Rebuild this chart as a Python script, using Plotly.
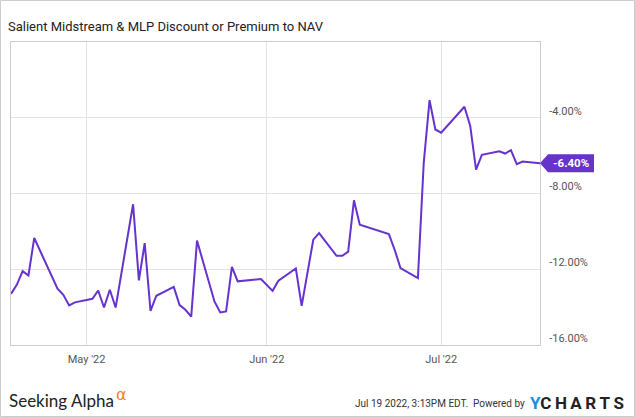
import plotly.graph_objects as go

# ---- data ----
dates = [
    "2022-04-18", "2022-04-19", "2022-04-20", "2022-04-21", "2022-04-22",
    "2022-04-26", "2022-04-27", "2022-04-28", "2022-04-29",
    "2022-05-02", "2022-05-03", "2022-05-04", "2022-05-05", "2022-05-06",
    "2022-05-09", "2022-05-10", "2022-05-11", "2022-05-12", "2022-05-13",
    "2022-05-16", "2022-05-17", "2022-05-18", "2022-05-19", "2022-05-20",
    "2022-05-23", "2022-05-24", "2022-05-25", "2022-05-26", "2022-05-27",
    "2022-05-31", "2022-06-02", "2022-06-03",
    "2022-06-06", "2022-06-07", "2022-06-09", "2022-06-10",
    "2022-06-13", "2022-06-14", "2022-06-15", "2022-06-16", "2022-06-17",
    "2022-06-22", "2022-06-23", "2022-06-24",
    "2022-06-27", "2022-06-28", "2022-06-29", "2022-06-30", "2022-07-01",
    "2022-07-05", "2022-07-06", "2022-07-07", "2022-07-08",
    "2022-07-11", "2022-07-12", "2022-07-13", "2022-07-14", "2022-07-15",
    "2022-07-18",
]
premium = [
    -13.30, -12.82, -12.10, -12.33, -10.35,
    -13.03, -13.35, -13.91, -13.75,
    -13.56, -13.12, -14.02, -13.08, -14.02,
    -8.57, -12.59, -10.62, -14.20, -13.40,
    -12.93, -13.89, -14.14, -14.50, -10.49,
    -13.70, -14.28, -14.23, -11.88, -12.64,
    -12.52, -13.14, -12.61,
    -11.96, -13.93, -10.44, -10.09,
    -11.29, -11.29, -11.07, -8.36, -9.65,
    -10.14, -10.97, -11.94,
    -12.47, -6.38, -3.07, -4.62, -4.79,
    -3.42, -4.44, -6.74, -5.96,
    -5.77, -5.89, -5.71, -6.45, -6.31,
    -6.40,
]
y_ticks = [-16, -12, -8, -4]
y_tick_labels = ["-16.00%", "-12.00%", "-8.00%", "-4.00%"]
x_ticks = ["2022-05-01", "2022-06-01", "2022-07-01"]
x_tick_labels = ["May '22", "Jun '22", "Jul '22"]
title_text = "Salient Midstream & MLP Discount or Premium to NAV"
last_label = "-6.40%"

# ---- layout geometry ----
W, H = 635, 417
ML, MR, MT, MB = 11, 95, 42, 72
PW, PH = W - ML - MR, H - MT - MB
PURPLE = "#6633cc"
FONT = "Roboto"


def px_x(px):
    return (px - ML) / PW


def px_y(py):
    return (H - MB - py) / PH


fig = go.Figure()
fig.add_trace(go.Scatter(
    x=dates, y=premium, mode="lines",
    line=dict(color=PURPLE, width=2),
    hoverinfo="skip", showlegend=False,
))

fig.update_layout(
    width=W, height=H,
    margin=dict(l=ML, r=MR, t=MT, b=MB, pad=0),
    paper_bgcolor="white", plot_bgcolor="white",
    font=dict(family=FONT, color="#555555", size=11),
    title=dict(
        text=title_text, xref="container", yref="container",
        x=8 / W, xanchor="left", y=1 - 26.5 / H, yanchor="middle",
        font=dict(family=FONT, size=13, color="#222222"),
    ),
    xaxis=dict(
        type="date", range=["2022-04-18", "2022-07-18"],
        tickvals=x_ticks, ticktext=x_tick_labels,
        showgrid=True, gridcolor="#e3e3e3", gridwidth=1,
        showline=True, linecolor="#cccccc", linewidth=1, mirror=True,
        ticks="", ticklabelstandoff=4,
        tickfont=dict(family=FONT, size=11, color="#555555"),
        zeroline=False, fixedrange=True,
    ),
    yaxis=dict(
        range=[-16, 0], side="right",
        tickvals=y_ticks, ticktext=y_tick_labels,
        showgrid=True, gridcolor="#e3e3e3", gridwidth=1,
        showline=True, linecolor="#cccccc", linewidth=1, mirror=True,
        ticks="", ticklabelstandoff=6, ticklabelshift=-7,
        tickfont=dict(family=FONT, size=11, color="#555555"),
        zeroline=False, fixedrange=True,
    ),
)

# last-value label (arrow box anchored at the final data value)
fig.add_shape(
    type="path", xref="paper", yref="y",
    xsizemode="pixel", ysizemode="pixel",
    xanchor=1, yanchor=premium[-1],
    path="M0,0 L8,9 L54,9 L54,-9 L8,-9 Z",
    fillcolor=PURPLE, line=dict(width=0), layer="above",
)
fig.add_annotation(
    xref="paper", yref="y", x=1, y=premium[-1],
    xanchor="center", yanchor="middle", xshift=31,
    text="<b>" + last_label + "</b>", showarrow=False,
    font=dict(family=FONT, size=11.5, color="white"),
)

# footer
fig.add_annotation(
    xref="paper", yref="paper", x=px_x(7), y=px_y(400),
    xanchor="left", yanchor="middle", showarrow=False,
    text="Seeking Alpha", font=dict(family="Lato", size=17, color="#222222"),
)
fig.add_annotation(
    xref="paper", yref="paper", x=px_x(114), y=px_y(394),
    xanchor="left", yanchor="middle", showarrow=False,
    text="α", font=dict(family="DejaVu Sans", size=16, color="#f5821f"),
)
fig.add_annotation(
    xref="paper", yref="paper", x=px_x(527), y=px_y(403),
    xanchor="right", yanchor="middle", showarrow=False,
    text="Jul 19 2022, 3:13PM EDT.  Powered by",
    font=dict(family=FONT, size=10, color="#333333"),
)
fig.add_annotation(
    xref="paper", yref="paper", x=px_x(528), y=px_y(403),
    xanchor="left", yanchor="middle", showarrow=False,
    text="<span style='color:#1a8fe6'>Y</span>C\u2009H\u2009A\u2009R\u2009T\u2009S",
    font=dict(family=FONT, size=17, color="#222222", weight="bold"),
)

# outer frame
fig.add_shape(
    type="rect", xref="paper", yref="paper",
    x0=px_x(0.5), x1=px_x(W - 0.5), y0=px_y(H - 0.5), y1=px_y(0.5),
    line=dict(color="#cccccc", width=1), fillcolor="rgba(0,0,0,0)", layer="below",
)

fig.write_html("out.html", config={"displayModeBar": False},
               post_script="document.body.style.margin='0';")
